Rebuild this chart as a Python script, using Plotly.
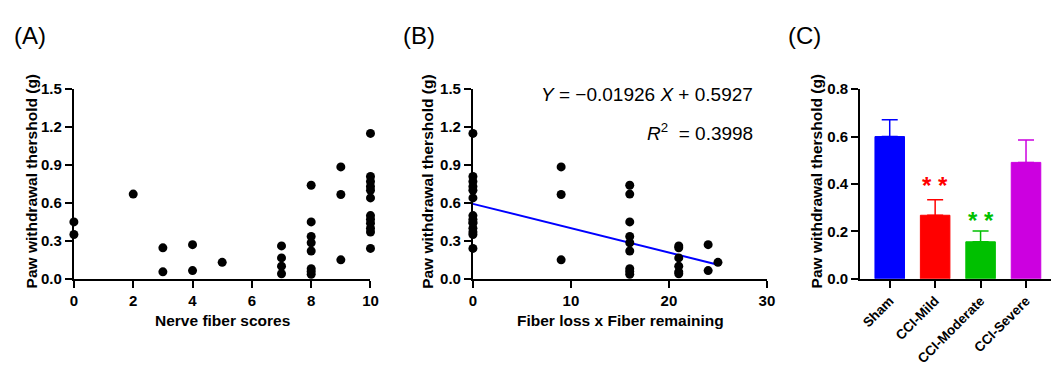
import plotly.graph_objects as go

# ---------------- data ----------------
# Panel A: nerve fiber score vs paw withdrawal threshold
a_scores = [0, 0, 2, 3, 3, 4, 4, 5,
            7, 7, 7, 7,
            8, 8, 8, 8, 8, 8, 8, 8,
            9, 9, 9,
            10, 10, 10, 10, 10, 10, 10, 10, 10, 10, 10, 10]
a_pwt = [0.45, 0.35, 0.67, 0.245, 0.055, 0.27, 0.065, 0.13,
         0.26, 0.165, 0.10, 0.04,
         0.74, 0.45, 0.335, 0.285, 0.22, 0.08, 0.058, 0.035,
         0.885, 0.667, 0.15,
         1.15, 0.81, 0.77, 0.73, 0.70, 0.64, 0.50, 0.47, 0.44, 0.40, 0.37, 0.24]

# Panel B: fiber loss x fiber remaining vs paw withdrawal threshold
b_product = [0, 0, 9, 21, 21, 24, 24, 25,
             21, 21, 21, 21,
             16, 16, 16, 16, 16, 16, 16, 16,
             9, 9, 16,
             0, 0, 0, 0, 0, 0, 0, 0, 0, 0, 0, 0]
b_pwt = [0.45, 0.35, 0.885, 0.245, 0.055, 0.27, 0.065, 0.13,
         0.26, 0.165, 0.10, 0.04,
         0.74, 0.45, 0.335, 0.285, 0.22, 0.08, 0.058, 0.035,
         0.667, 0.15, 0.67,
         1.15, 0.81, 0.77, 0.73, 0.70, 0.64, 0.50, 0.47, 0.44, 0.40, 0.37, 0.24]
fit_slope = -0.01926
fit_intercept = 0.5927
fit_x = [0, 25]
fit_y = [fit_slope * v + fit_intercept for v in fit_x]

# Panel C: group means with SEM
groups = ["Sham", "CCI-Mild", "CCI-Moderate", "CCI-Severe"]
means = [0.60, 0.268, 0.156, 0.491]
sems = [0.071, 0.065, 0.046, 0.095]
bar_colors = ["#0000FF", "#FF0000", "#00C000", "#CC00E0"]
sig_groups = ["CCI-Mild", "CCI-Moderate"]
sig_y = [0.393, 0.246]
sig_colors = ["#FF0000", "#00C000"]

# ---------------- figure ----------------
W, H = 1059, 372
FONT = "Liberation Sans, Arial, sans-serif"
fig = go.Figure()

fig.add_trace(go.Scatter(x=a_scores, y=a_pwt, mode="markers",
                         marker=dict(color="black", size=9),
                         cliponaxis=False, xaxis="x", yaxis="y",
                         showlegend=False))
fig.add_trace(go.Scatter(x=fit_x, y=fit_y, mode="lines",
                         line=dict(color="#0000FF", width=2),
                         xaxis="x2", yaxis="y2", showlegend=False))
fig.add_trace(go.Scatter(x=b_product, y=b_pwt, mode="markers",
                         marker=dict(color="black", size=9),
                         cliponaxis=False, xaxis="x2", yaxis="y2",
                         showlegend=False))
for g, m, s, c in zip(groups, means, sems, bar_colors):
    fig.add_trace(go.Bar(x=[g], y=[m], width=0.65,
                         marker=dict(color=c, line=dict(color=c, width=1)),
                         error_y=dict(type="data", array=[s], arrayminus=[0],
                                      symmetric=False, color=c,
                                      thickness=1.5, width=8),
                         xaxis="x3", yaxis="y3", showlegend=False))

y_dom = [1 - 282.7 / H, 1 - 84 / H]
axis_common = dict(showline=True, linecolor="black", linewidth=2,
                   ticks="outside", ticklen=7, tickwidth=2, tickcolor="black",
                   showgrid=False, zeroline=False,
                   tickfont=dict(family=FONT, size=15, color="black", weight="bold"))

fig.update_layout(
    width=W, height=H, margin=dict(l=0, r=0, t=0, b=0),
    paper_bgcolor="white", plot_bgcolor="white",
    font=dict(family=FONT, color="black"),
    barmode="overlay",
    xaxis=dict(domain=[70.7 / W, 370.7 / W], range=[0, 10],
               tickvals=[0, 2, 4, 6, 8, 10], anchor="y", **axis_common),
    yaxis=dict(domain=y_dom, range=[0, 1.5], tickvals=[0, 0.3, 0.6, 0.9, 1.2, 1.5],
               tickformat=".1f", anchor="x", **axis_common),
    xaxis2=dict(domain=[474.3 / W, 771.7 / W], range=[0, 30],
                tickvals=[0, 10, 20, 30], anchor="y2", **axis_common),
    yaxis2=dict(domain=y_dom, range=[0, 1.5], tickvals=[0, 0.3, 0.6, 0.9, 1.2, 1.5],
                tickformat=".1f", anchor="x2", **axis_common),
    xaxis3=dict(domain=[866 / W, 1.0], range=[-0.65, 3.55], anchor="y3",
                tickangle=-45, **axis_common),
    yaxis3=dict(domain=y_dom, range=[0, 0.8], tickvals=[0, 0.2, 0.4, 0.6, 0.8],
                tickformat=".1f", anchor="x3", **axis_common),
)
fig.update_xaxes(selector=dict(anchor="y3"),
                 tickfont=dict(family=FONT, size=13.5, color="black", weight="bold"))

ann = []
title_font = dict(family=FONT, size=15.5, color="black", weight="bold")
for xc in [28, 429, 822]:
    ann.append(dict(text="Paw withdrawal thershold (g)", x=xc / W, y=1 - 181 / H,
                    xref="paper", yref="paper", showarrow=False, textangle=-90,
                    xanchor="center", yanchor="middle", font=title_font))
ann.append(dict(text="Nerve fiber scores", x=221 / W, y=1 - 326 / H,
                xref="paper", yref="paper", showarrow=False,
                xanchor="center", yanchor="middle", font=title_font))
ann.append(dict(text="Fiber loss x Fiber remaining", x=624 / W, y=1 - 326 / H,
                xref="paper", yref="paper", showarrow=False,
                xanchor="center", yanchor="middle", font=title_font))
panel_font = dict(family=FONT, size=24, color="black")
for lbl, xl in [("(A)", 8), ("(B)", 402), ("(C)", 791)]:
    ann.append(dict(text=lbl, x=xl / W, y=1 - 28 / H, xref="paper", yref="paper",
                    showarrow=False, xanchor="left", yanchor="middle", font=panel_font))
eq_font = dict(family=FONT, size=19, color="black")
ann.append(dict(text="<i>Y</i> = \u22120.01926 <i>X</i> + 0.5927", x=760 / W, y=1 - 90 / H,
                xref="paper", yref="paper", showarrow=False,
                xanchor="right", yanchor="middle", font=eq_font))
ann.append(dict(text="<i>R</i><sup>2</sup>  = 0.3998", x=760 / W, y=1 - 129 / H,
                xref="paper", yref="paper", showarrow=False,
                xanchor="right", yanchor="middle", font=eq_font))
for g, yv, c in zip(sig_groups, sig_y, sig_colors):
    ann.append(dict(text="* *", x=g, y=yv, xref="x3", yref="y3", showarrow=False,
                    xanchor="center", yanchor="middle",
                    font=dict(family=FONT, size=24, color=c, weight="bold")))
fig.update_layout(annotations=ann)

fig.write_html("out.html")
